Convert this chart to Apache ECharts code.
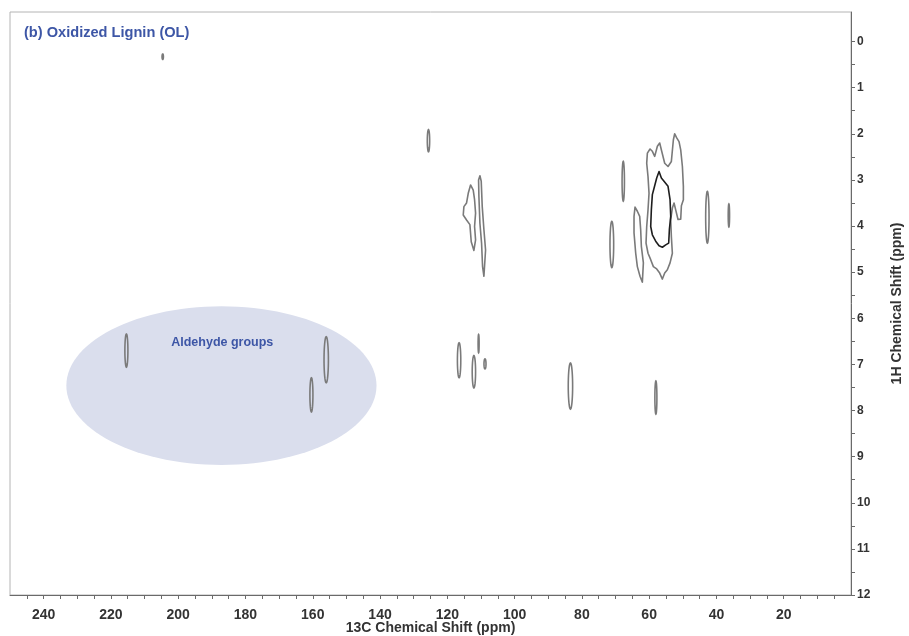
<!DOCTYPE html>
<html>
<head>
<meta charset="utf-8">
<script src="https://cdn.jsdelivr.net/npm/echarts@6/dist/echarts.min.js"></script>
<style>
html,body{margin:0;padding:0;background:#fff;}
#chart{width:909px;height:636px;}
</style>
</head>
<body>
<div id="chart"></div>
<script>
// ---- Data (13C ppm, 1H ppm) ----
const xTickLabels = [20, 40, 60, 80, 100, 120, 140, 160, 180, 200, 220, 240];
const yTickLabels = [0, 1, 2, 3, 4, 5, 6, 7, 8, 9, 10, 11, 12];

// small single-level cross peaks: centre and half extents
const peakC      = [204.6, 215.4, 156.0, 160.4, 116.5, 110.7, 112.1, 108.8, 83.4, 58.0, 125.6, 67.7, 71.1, 42.7, 36.3];
const peakH      = [0.33,  6.70,  6.90,  7.66,  6.91,  6.55,  7.16,  6.99,  7.47, 7.72, 2.15,  3.03, 4.40, 3.81, 3.77];
const peakHalfC  = [0.20,  0.45,  0.65,  0.45,  0.50,  0.15,  0.50,  0.30,  0.65, 0.30, 0.35,  0.35, 0.55, 0.50, 0.20];
const peakHalfH  = [0.06,  0.36,  0.50,  0.37,  0.38,  0.20,  0.35,  0.11,  0.50, 0.36, 0.24,  0.43, 0.50, 0.56, 0.25];

// irregular contours (13C, 1H)
const contourAromaticA = [[113.09,3.11],[112.30,3.22],[111.90,3.43],[111.60,3.72],[111.90,4.01],[111.60,4.30],[112.10,4.53],[112.89,4.34],[113.29,3.97],[114.28,3.87],[115.27,3.76],[115.07,3.58],[114.28,3.50],[113.78,3.29]];
const contourAromaticB = [[110.31,2.91],[109.92,3.03],[109.62,3.58],[109.12,4.08],[108.63,4.52],[109.12,5.09],[109.52,4.88],[109.82,4.37],[110.31,3.94],[110.61,3.36],[110.71,3.00]];
const contourSide = [[64.20,3.59],[63.51,3.68],[62.81,3.79],[62.52,4.08],[62.32,4.44],[61.72,4.80],[62.02,5.22],[62.72,5.09],[63.51,4.88],[64.00,4.59],[64.50,4.15],[64.50,3.79]];
const contourMethoxyOuter = [[60.53,2.42],[59.74,2.33],[59.05,2.38],[58.35,2.49],[57.56,2.27],[56.87,2.20],[56.27,2.38],[55.38,2.64],[54.39,2.71],[53.40,2.60],[52.80,2.13],[52.41,2.00],[51.81,2.09],[51.12,2.17],[50.62,2.35],[50.12,2.71],[49.83,3.14],[49.83,3.43],[50.42,3.56],[50.62,3.85],[51.42,3.86],[52.11,3.65],[52.60,3.50],[53.10,3.61],[53.60,3.86],[53.40,4.23],[53.10,4.59],[53.79,4.80],[54.59,4.95],[55.38,5.02],[56.07,5.15],[56.87,5.02],[57.76,4.93],[58.75,4.88],[59.54,4.73],[60.34,4.59],[60.93,4.37],[60.73,4.01],[60.34,3.65],[60.04,3.29],[60.34,2.93],[60.73,2.64]];
const contourMethoxyInner = [[57.06,2.82],[56.37,2.96],[55.58,3.03],[54.39,3.14],[53.79,3.43],[53.59,3.79],[53.99,4.08],[54.19,4.37],[55.08,4.41],[56.07,4.46],[57.06,4.43],[58.06,4.33],[59.05,4.19],[59.54,4.01],[59.35,3.65],[59.05,3.32],[58.55,3.18],[57.76,2.96]];

// annotation region (aldehyde groups)
const regionCentre = [187.15, 7.46];
const regionHalf = [46.1, 1.72];
const regionLabel = 'Aldehyde groups';
const regionLabelPos = [186.9, 6.52];

const titleText = '(b) Oxidized Lignin (OL)';
const xName = '13C Chemical Shift (ppm)';
const yName = '1H Chemical Shift (ppm)';

// ---- Build ----
const FONT = '"Liberation Sans", Arial, sans-serif';
const GRAY = '#7a7a7a';
const ticksX = [];
for (let v = 5; v <= 245; v += 5) ticksX.push(v);
const ticksY = [];
for (let v = 0; v <= 12; v += 0.5) ticksY.push(v);

function ellipsePts(api, c, h, rc, rh, n) {
  const ctr = api.coord([c, h]);
  const sz = api.size([rc, rh]);
  const pts = [];
  for (let i = 0; i < n; i++) {
    const a = (i / n) * Math.PI * 2;
    pts.push([ctr[0] + sz[0] * Math.cos(a), ctr[1] + sz[1] * Math.sin(a)]);
  }
  return pts;
}

const contours = [contourAromaticA, contourAromaticB, contourSide, contourMethoxyOuter, contourMethoxyInner];
const contourColors = [GRAY, GRAY, GRAY, GRAY, '#1e1e1e'];

const chart = echarts.init(document.getElementById('chart'), null, {renderer: 'canvas'});
chart.setOption({
  animation: false,
  backgroundColor: '#fff',
  title: {
    text: titleText, left: 19, top: 20,
    textStyle: {fontFamily: FONT, fontSize: 14.6, fontWeight: 'bold', color: '#3d56a6'}
  },
  grid: {left: 10, right: 58, top: 12, bottom: 41, containLabel: false, outerBoundsMode: 'none',
         show: true, borderColor: '#b4b4b4', borderWidth: 1, backgroundColor: 'transparent'},
  xAxis: {
    type: 'value', min: 0, max: 250, inverse: true, position: 'bottom',
    name: xName, nameLocation: 'middle', nameGap: 33, nameMoveOverlap: false,
    nameTextStyle: {fontFamily: FONT, fontSize: 14, fontWeight: 'bold', color: '#333', verticalAlign: 'middle'},
    axisLine: {show: true, onZero: false, lineStyle: {color: '#6a6a6a', width: 1}},
    axisTick: {show: true, customValues: ticksX, length: 4, lineStyle: {color: '#6a6a6a'}},
    axisLabel: {customValues: xTickLabels, margin: 13, fontFamily: FONT, fontSize: 14, fontWeight: 'bold', color: '#333'},
    splitLine: {show: false}
  },
  yAxis: {
    type: 'value', min: -0.64, max: 12, inverse: true, position: 'right',
    name: yName, nameLocation: 'middle', nameGap: 46, nameRotate: 90, nameMoveOverlap: false,
    nameTextStyle: {fontFamily: FONT, fontSize: 14, fontWeight: 'bold', color: '#333', verticalAlign: 'middle'},
    axisLine: {show: true, onZero: false, lineStyle: {color: '#6a6a6a', width: 1}},
    axisTick: {show: true, customValues: ticksY, length: 4, lineStyle: {color: '#6a6a6a'}},
    axisLabel: {customValues: yTickLabels, margin: 6, fontFamily: FONT, fontSize: 12, fontWeight: 'bold', color: '#333'},
    splitLine: {show: false}
  },
  series: [
    {
      type: 'custom', z: 1, silent: true,
      data: [[regionCentre[0], regionCentre[1]]],
      renderItem: function (params, api) {
        return {
          type: 'group',
          children: [
            {type: 'polygon', shape: {points: ellipsePts(api, regionCentre[0], regionCentre[1], regionHalf[0], regionHalf[1], 120)}, style: {fill: '#dadeed', stroke: null}},
            {type: 'text', x: api.coord(regionLabelPos)[0], y: api.coord(regionLabelPos)[1],
             style: {text: regionLabel, fill: '#3d56a6', font: 'bold 12.5px ' + FONT, align: 'center', verticalAlign: 'middle'}}
          ]
        };
      }
    },
    {
      type: 'custom', z: 3, silent: true,
      data: peakC.map((c, i) => [c, peakH[i], peakHalfC[i], peakHalfH[i]]),
      renderItem: function (params, api) {
        return {
          type: 'polygon',
          shape: {points: ellipsePts(api, api.value(0), api.value(1), api.value(2), api.value(3), 40)},
          style: {fill: null, stroke: GRAY, lineWidth: 1.6}
        };
      }
    },
    {
      type: 'custom', z: 3, silent: true,
      data: contours.map((c, i) => [c[0][0], c[0][1], i]),
      renderItem: function (params, api) {
        const idx = api.value(2);
        const pts = contours[idx].map(p => api.coord(p));
        return {
          type: 'polygon',
          shape: {points: pts},
          style: {fill: null, stroke: contourColors[idx], lineWidth: 1.6, lineJoin: 'round'}
        };
      }
    }
  ]
});
</script>
</body>
</html>
